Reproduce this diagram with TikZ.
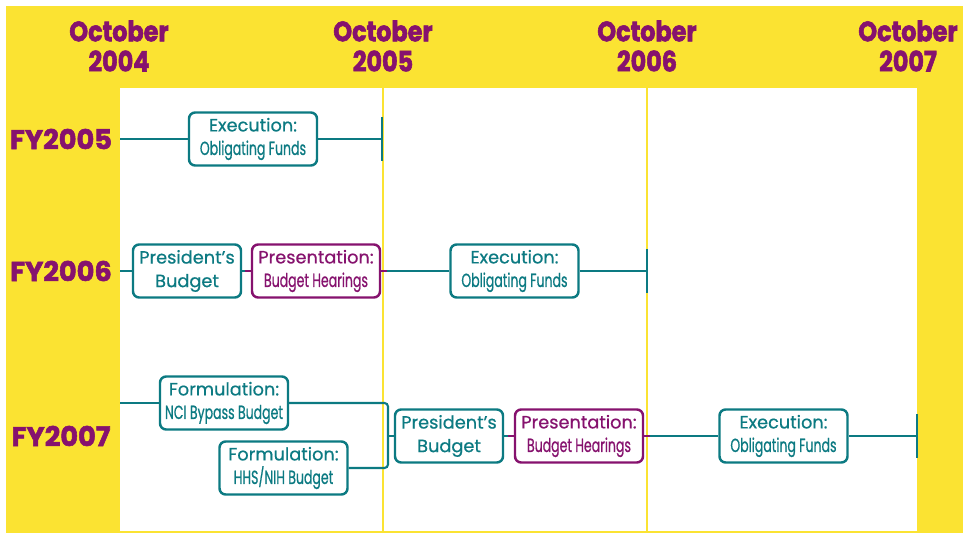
\documentclass[tikz,border=0pt]{standalone}
\usepackage{fontspec}
\setmainfont{Poppins}[FakeBold=0.6]
\newfontfamily\narrowfont{Poppins}[FakeStretch=0.66,FakeBold=0.6]
\newfontfamily\headfont{Poppins}[FakeStretch=0.85,BoldFeatures={FakeBold=2}]
\newfontfamily\fyfont{Poppins}[BoldFeatures={FakeBold=2}]
\definecolor{fyyellow}{RGB}{251,227,50}
\definecolor{fypurple}{RGB}{134,18,110}
\definecolor{fyteal}{RGB}{12,122,130}
\tikzset{
  phase/.style={draw=fyteal,fill=white,line width=1.4pt,rounded corners=3.5pt,
    text=fyteal,align=center,inner sep=0pt,minimum width=2.56cm,minimum height=1.06cm,
    font=\fontsize{10.1}{13.4}\selectfont},
  pres/.style={phase,draw=fypurple,text=fypurple},
  pbox/.style={phase,minimum width=2.16cm},
  head/.style={text=fypurple,font=\headfont\bfseries\fontsize{16}{17}\selectfont},
  fy/.style={text=fypurple,font=\fyfont\bfseries\fontsize{15.5}{17}\selectfont},
  tl/.style={fyteal,line width=1.2pt},
  tlp/.style={fypurple,line width=1.2pt},
  tick/.style={fyteal,line width=1.4pt},
}
\newcommand{\lowline}[1]{{\narrowfont\fontsize{10.8}{13.4}\selectfont #1}}
\begin{document}
\begin{tikzpicture}[x=0.02cm,y=-0.02cm]
\useasboundingbox (0,0) rectangle (968,533);
\fill[fyyellow] (6,6) rectangle (963,533);
\fill[white] (120,88) rectangle (917,531);
\draw[fyyellow,line width=1.1pt] (383,88)--(383,531);
\draw[fyyellow,line width=1.1pt] (647,88)--(647,531);
% column heads
\node[head] (o04) at (119,31) {October};
\node[head] (y04) at (119,61) {2004};
\node[head] (o05) at (383,31) {October};
\node[head] (y05) at (383,61) {2005};
\node[head] (o06) at (647,31) {October};
\node[head] (y06) at (647,61) {2006};
\node[head] (o07) at (908,31) {October};
\node[head] (y07) at (908,61) {2007};
% fiscal years
\node[fy] (fy05) at (61,139) {FY2005};
\node[fy] (fy06) at (61,271) {FY2006};
\node[fy] (fy07) at (61,436) {FY2007};
% FY2005
\coordinate (s05) at (120,139);
\coordinate (t05) at (382,139);
\node[phase] (e05) at (253,139) {Execution:\\\lowline{Obligating Funds}};
\draw[tl] (s05)--(e05.west) (e05.east)--(t05);
\draw[tick] (t05)++(0,-22)--++(0,44);
% FY2006
\coordinate (s06) at (120,271);
\coordinate (t06) at (647,271);
\node[pbox] (pb06) at (187,271) {President’s\\Budget};
\node[pres] (pr06) at (316,271) {Presentation:\\\lowline{Budget Hearings}};
\node[phase] (e06) at (514.5,271) {Execution:\\\lowline{Obligating Funds}};
\draw[tl] (s06)--(pb06.west) (pb06.east)--++(5,0);
\draw[tlp] (pr06.west)--++(-6,0) (pr06.east)--++(6,0);
\draw[tl] (pr06.east)++(6,0)--(e06.west) (e06.east)--(t06);
\draw[tick] (t06)++(0,-22)--++(0,44);
% FY2007
\coordinate (s07) at (120,403);
\coordinate (j07) at (388,436);
\coordinate (t07) at (917,436);
\node[phase] (nci) at (224,403) {Formulation:\\\lowline{NCI Bypass Budget}};
\node[phase] (hhs) at (283.5,468) {Formulation:\\\lowline{HHS/NIH Budget}};
\node[pbox] (pb07) at (449,436) {President’s\\Budget};
\node[pres] (pr07) at (579,436) {Presentation:\\\lowline{Budget Hearings}};
\node[phase] (e07) at (783.5,436) {Execution:\\\lowline{Obligating Funds}};
\draw[tl] (s07)--(nci.west);
\draw[tl,rounded corners=2pt] (nci.east)-|(j07)|-(hhs.east);
\draw[tl] (j07)--(pb07.west) (pb07.east)--++(6,0);
\draw[tlp] (pr07.west)--++(-6,0) (pr07.east)--++(6,0);
\draw[tl] (pr07.east)++(6,0)--(e07.west) (e07.east)--(t07);
\draw[tick] (t07)++(0,-22)--++(0,44);
\end{tikzpicture}
\end{document}
